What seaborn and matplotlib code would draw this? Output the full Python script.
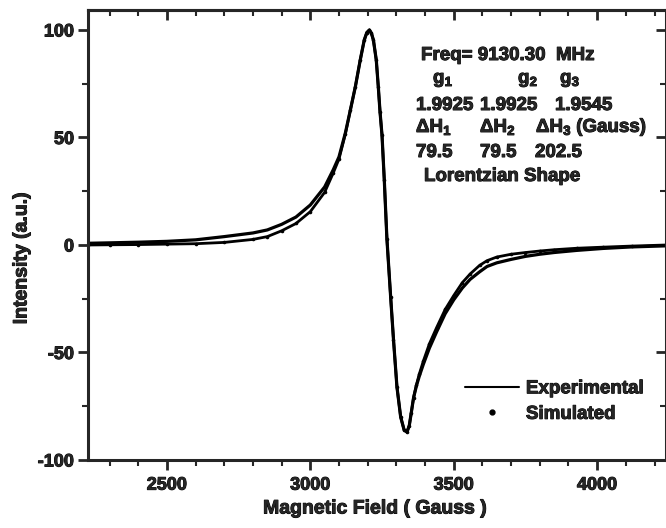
import numpy as np
import pandas as pd
import matplotlib
matplotlib.use("Agg")
import matplotlib.pyplot as plt
import matplotlib.patheffects as pe
import seaborn as sns
from matplotlib.lines import Line2D
from matplotlib.ticker import MultipleLocator, NullFormatter

# ---------------- data ----------------
field = [2225, 2300, 2400, 2500, 2600, 2700, 2800, 2850, 2900, 2950, 3000,
         3050, 3080, 3100, 3122, 3140, 3157, 3174, 3188, 3197, 3206, 3213,
         3220, 3230, 3237, 3243, 3250, 3258, 3267, 3280, 3290, 3302, 3315,
         3327, 3337, 3345, 3352, 3360, 3370, 3380, 3394, 3415, 3440, 3470,
         3500, 3530, 3557, 3590, 3616, 3650, 3700, 3750, 3800, 3850, 3930,
         4021, 4120, 4240]

experimental = [0.8, 1.0, 1.3, 1.7, 2.4, 3.9, 5.6, 7.0, 9.6, 13.0, 18.6,
                27.0, 35.0, 41.0, 52.0, 63.0, 73.6, 86.0, 95.3, 98.8, 100.0, 98.5,
                95.3, 86.0, 73.6, 62.0, 51.0, 30.0, 3.0, -24.0, -44.0, -66.0, -80.0,
                -86.0, -87.0, -84.0, -78.0, -71.0, -65.5, -61.0, -55.5, -48.0, -40.5, -32.0,
                -25.5, -20.0, -16.0, -12.5, -10.0, -8.3, -6.7, -5.3, -4.3, -3.5, -2.5,
                -1.6, -0.9, -0.4]

simulated = [0.0, 0.1, 0.2, 0.4, 0.6, 1.2, 2.6, 3.9, 6.6, 10.0, 15.5,
             24.5, 33.5, 40.0, 51.5, 63.0, 73.6, 86.0, 95.3, 98.8, 100.0, 98.5,
             95.3, 86.0, 73.6, 62.0, 51.0, 30.0, 3.0, -24.0, -44.0, -66.0, -80.0,
             -86.0, -87.0, -84.0, -78.0, -71.0, -65.0, -60.0, -54.0, -46.0, -38.5, -30.0,
             -23.5, -17.5, -13.5, -9.5, -7.3, -5.6, -4.3, -3.5, -2.8, -2.2, -1.5,
             -1.0, -0.5, 0.0]

series_labels = ["Experimental", "Simulated"]
xticks = [2500, 3000, 3500, 4000]
yticks = [-100, -50, 0, 50, 100]

df_exp = pd.DataFrame({"field": field, "intensity": experimental})
df_sim = pd.DataFrame({"field": field, "intensity": simulated})

# ---------------- style ----------------
sns.set_style("ticks")
plt.rcParams["font.family"] = ["Liberation Sans", "DejaVu Sans"]
plt.rcParams["font.weight"] = "bold"
plt.rcParams["axes.unicode_minus"] = False
plt.rcParams["mathtext.fontset"] = "custom"
plt.rcParams["mathtext.rm"] = "Liberation Sans:bold"
plt.rcParams["mathtext.it"] = "Liberation Sans:bold"
plt.rcParams["mathtext.bf"] = "Liberation Sans:bold"

heavy = [pe.withStroke(linewidth=0.7, foreground="black")]

W, H = 666, 528
fig = plt.figure(figsize=(W / 100, H / 100), dpi=100)
ax = fig.add_axes([88 / W, (H - 460) / H, (W - 88) / W, 450 / H])

sns.lineplot(data=df_exp, x="field", y="intensity", ax=ax, color="black",
             lw=2.3, sort=False, estimator=None)
sns.lineplot(data=df_sim, x="field", y="intensity", ax=ax, color="black",
             lw=2.0, marker="o", markersize=2.6, markeredgewidth=0,
             sort=False, estimator=None)

ax.set_xlim(2225, 4240)
ax.set_ylim(-100, 109.3)
ax.set_xticks(xticks)
ax.set_yticks(yticks)
ax.xaxis.set_minor_locator(MultipleLocator(100))
ax.yaxis.set_minor_locator(MultipleLocator(25))
ax.tick_params(which="major", direction="out", length=7, width=2, labelsize=13, pad=5)
ax.tick_params(which="minor", direction="out", length=4, width=1.5)
ax.tick_params(axis="y", pad=3)
for s in ax.spines.values():
    s.set_linewidth(2.2)
    s.set_visible(True)
for lab in ax.get_xticklabels() + ax.get_yticklabels():
    lab.set_path_effects(heavy)

# top / right mirror ticks pointing inward
sec_x = ax.secondary_xaxis("top")
sec_x.set_xticks(xticks)
sec_x.xaxis.set_minor_locator(MultipleLocator(100))
sec_x.xaxis.set_major_formatter(NullFormatter())
sec_x.tick_params(which="major", direction="in", length=7, width=2)
sec_x.tick_params(which="minor", direction="in", length=4, width=1.5)
sec_x.spines["top"].set_linewidth(2.2)
sec_y = ax.secondary_yaxis("right")
sec_y.set_yticks(yticks)
sec_y.yaxis.set_minor_locator(MultipleLocator(25))
sec_y.yaxis.set_major_formatter(NullFormatter())
sec_y.tick_params(which="major", direction="in", length=7, width=2)
sec_y.tick_params(which="minor", direction="in", length=4, width=1.5)

ax.set_xlabel("Magnetic Field ( Gauss )", fontsize=14, fontweight="bold")
ax.set_ylabel("Intensity (a.u.)", fontsize=14, fontweight="bold")
ax.xaxis.set_label_coords((375 - 88) / 578, (460 - 509) / 450)
ax.xaxis.label.set_va("center")
ax.yaxis.set_label_coords((22 - 88) / 578, (460 - 258) / 450)
ax.yaxis.label.set_va("center")
ax.xaxis.label.set_path_effects(heavy)
ax.yaxis.label.set_path_effects(heavy)

# legend
handles = [Line2D([], [], color="black", lw=1.5),
           Line2D([], [], color="black", marker="o", ls="none", markersize=3.5)]
leg = ax.legend(handles, series_labels, loc="center left",
                bbox_to_anchor=((465 - 88) / 578, (460 - 401.5) / 450),
                frameon=False, borderpad=0, borderaxespad=0, handlelength=2.9,
                handletextpad=0.35, labelspacing=0.45,
                prop={"weight": "bold", "size": 13.5})
for t in leg.get_texts():
    t.set_path_effects(heavy)

# annotation block
def ftext(x, y, s):
    fig.text(x / W, 1 - y / H, s, ha="left", va="baseline",
             fontsize=13.5, fontweight="bold", path_effects=heavy)

ftext(421, 60, "Freq= 9130.30  MHz")
ftext(433, 83, "g$_1$")
ftext(518, 83, "g$_2$")
ftext(560, 83, "g$_3$")
ftext(416, 110, "1.9925")
ftext(480, 110, "1.9925")
ftext(555, 110, "1.9545")
ftext(416, 132, "ΔH$_1$")
ftext(480, 132, "ΔH$_2$")
ftext(536, 132, "ΔH$_3$ (Gauss)")
ftext(416, 157, "79.5")
ftext(480, 157, "79.5")
ftext(535, 157, "202.5")
ftext(424, 181, "Lorentzian Shape")

fig.savefig("out.png", dpi=100)
